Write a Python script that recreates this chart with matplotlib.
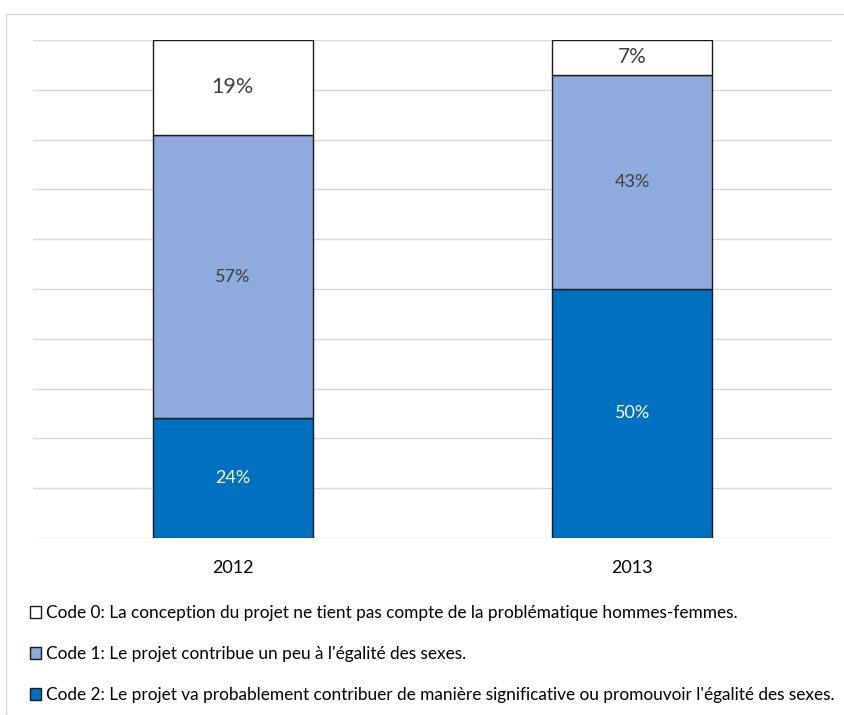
import matplotlib.pyplot as plt
import matplotlib
from matplotlib.patches import Rectangle
import numpy as np

matplotlib.rcParams["font.family"] = ["Lato", "DejaVu Sans"]

years = ["2012", "2013"]
code2 = [24, 50]
code1 = [57, 43]
code0 = [19, 7]

labels = [
    "Code 0: La conception du projet ne tient pas compte de la problématique hommes-femmes.",
    "Code 1: Le projet contribue un peu à l'égalité des sexes.",
    "Code 2: Le projet va probablement contribuer de manière significative ou promouvoir l'égalité des sexes.",
]
colors = ["#FFFFFF", "#8FAADC", "#0070C0"]

fig = plt.figure(figsize=(8.45, 7.15), dpi=100)
fig.patches.append(Rectangle((6 / 845, 0), 1, 1 - 14 / 715, transform=fig.transFigure,
                             fill=False, edgecolor="#D9D9D9", linewidth=1))
ax = fig.add_axes([33 / 845, 1 - 538 / 715, 799 / 845, 498 / 715])

x = np.arange(len(years))
w = 0.4
b2 = ax.bar(x, code2, w, color=colors[2], edgecolor="#1a1a1a", linewidth=1, zorder=3)
b1 = ax.bar(x, code1, w, bottom=code2, color=colors[1], edgecolor="#1a1a1a", linewidth=1, zorder=3)
bottom0 = np.array(code2) + np.array(code1)
b0 = ax.bar(x, code0, w, bottom=bottom0, color=colors[0], edgecolor="#1a1a1a", linewidth=1, zorder=3)

for i in range(len(years)):
    ax.text(x[i], code2[i] / 2, f"{code2[i]}%", ha="center", va="center",
            color="white", fontsize=13, zorder=4)
    ax.text(x[i], code2[i] + code1[i] / 2, f"{code1[i]}%", ha="center", va="center",
            color="#404040", fontsize=13, zorder=4)
    ax.text(x[i], bottom0[i] + code0[i] / 2, f"{code0[i]}%", ha="center", va="center",
            color="#404040", fontsize=15.5 if code0[i] > 10 else 15, zorder=4)

ax.set_xlim(-0.5, 1.5)
ax.set_ylim(0, 100)
ax.set_yticks(np.arange(0, 101, 10))
ax.set_yticklabels([])
ax.tick_params(axis="y", length=0)
ax.tick_params(axis="x", length=0, labelsize=13, pad=16)
ax.set_xticks(x)
ax.set_xticklabels(years)
ax.grid(True, axis="y", color="#D9D9D9", linewidth=1, zorder=0)
for s in ax.spines.values():
    s.set_visible(False)

fig.legend([b0, b1, b2], labels, loc="upper left", bbox_to_anchor=(30 / 845, 1 - 605 / 715),
           frameon=False, fontsize=12.4, handlelength=0.65, handleheight=0.65,
           handletextpad=0.3, labelspacing=1.45, borderpad=0, borderaxespad=0)

fig.savefig("out.png", dpi=100)
